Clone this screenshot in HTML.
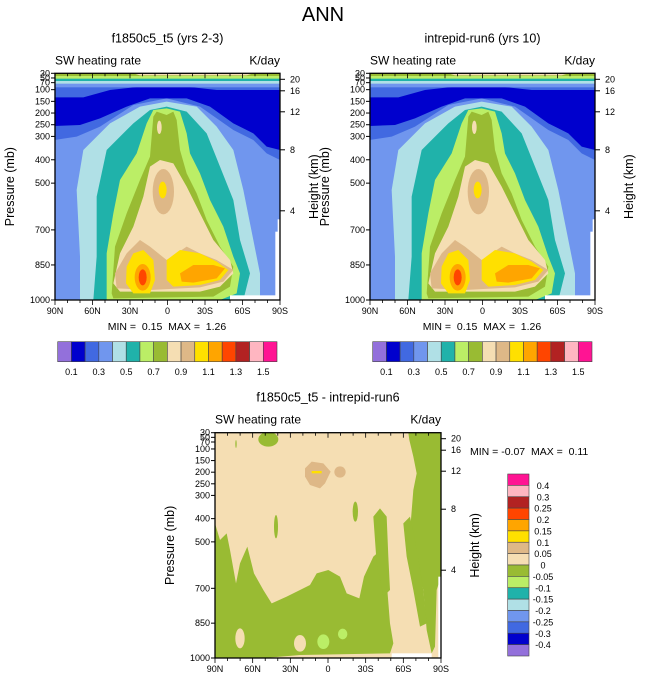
<!DOCTYPE html>
<html><head><meta charset="utf-8"><style>
html,body{margin:0;padding:0;background:#fff}
svg{display:block;font-family:"Liberation Sans",Arial,sans-serif}
.pre{white-space:pre}
</style></head><body>
<svg id="s" width="647" height="683" viewBox="0 0 647 683" xmlns="http://www.w3.org/2000/svg">
<defs>
<clipPath id="cz1"><rect x="163" y="100" width="677" height="680"/></clipPath>
<clipPath id="cz2"><rect x="165" y="128" width="678" height="677"/></clipPath>
<g id="topshapes">
 <rect x="163" y="100" width="677" height="680" fill="#7096EE"/>
 <path d="M163,120 L840,120 L840,360 L800,340 L760,300 L700,270 L600,200 L500,175 L400,195 L300,260 L230,290 L163,300 Z" fill="#4169E1"/>
 <path d="M163,172 L250,172 L330,150 L420,140 L560,140 L650,150 L720,150 L840,150 L840,330 L800,320 L760,280 L700,250 L630,200 L560,175 L450,175 L380,200 L300,235 L240,255 L163,258 Z" fill="#0000CD"/>
 <rect x="163" y="130" width="677" height="12" fill="#7096EE"/>
 <rect x="163" y="122" width="677" height="9" fill="#B0E0E6"/>
 <rect x="163" y="115" width="677" height="8" fill="#20B2AA"/>
 <rect x="163" y="108" width="677" height="8" fill="#BBEE66"/>
 <rect x="163" y="100" width="677" height="8" fill="#99BB33"/>
 <path d="M400,100 L760,100 L740,106 L420,106 Z" fill="#F5DEB3"/>
 <path d="M240,780 L240,650 L230,450 L250,330 L330,250 L420,200 L500,185 L590,200 L650,260 L700,330 L730,450 L760,600 L780,700 L780,780 Z" fill="#B0E0E6"/>
 <path d="M280,780 L290,650 L290,470 L320,330 L400,250 L450,210 L500,200 L560,215 L620,280 L660,380 L700,480 L720,600 L750,700 L730,780 Z" fill="#20B2AA"/>
 <path d="M320,780 L320,640 L340,520 L360,420 L410,340 L440,250 L460,210 L500,205 L540,215 L560,280 L570,340 L600,400 L630,480 L670,560 L700,650 L720,700 L710,760 L660,780 Z" fill="#BBEE66"/>
 <path d="M335,760 L345,620 L380,520 L420,420 L450,350 L460,230 L470,215 L500,225 L520,215 L530,240 L540,330 L560,400 L590,460 L620,540 L660,620 L700,680 L690,740 L640,770 L340,775 Z" fill="#99BB33"/>
 <path d="M340,730 L360,640 L400,560 L430,470 L450,380 L480,360 L520,370 L560,440 L600,520 L640,600 L690,660 L700,700 L660,740 L600,755 L360,755 Z" fill="#F5DEB3"/>
 <ellipse cx="478" cy="262" rx="7" ry="20" fill="#F5DEB3"/>
 <path d="M345,700 L380,640 L420,600 L450,620 L500,660 L560,620 L600,640 L650,660 L700,690 L670,725 L600,742 L450,750 L350,745 Z" fill="#DEB887"/>
 <ellipse cx="490" cy="455" rx="32" ry="68" fill="#DEB887"/>
 <ellipse cx="488" cy="450" rx="12" ry="25" fill="#FFE000"/>
 <path d="M380,680 L400,640 L430,630 L460,660 L465,720 L450,760 L400,760 L378,730 Z" fill="#FFE000"/>
 <path d="M500,660 L540,630 L600,640 L650,665 L685,690 L660,720 L600,735 L520,740 L500,720 Z" fill="#FFE000"/>
 <ellipse cx="428" cy="712" rx="24" ry="40" fill="#FFA500"/>
 <path d="M540,700 L580,675 L640,675 L675,685 L650,715 L580,728 L545,725 Z" fill="#FFA500"/>
 <ellipse cx="428" cy="712" rx="12" ry="24" fill="#FF4500"/>
 <rect x="690" y="766" width="150" height="14" fill="#fff"/>
 <rect x="833" y="538" width="7" height="242" fill="#fff"/>
 <rect x="826" y="575" width="8" height="205" fill="#fff"/>
</g>
</defs>
<g id="root"></g>
</svg>
<script>
var NS="http://www.w3.org/2000/svg",root=document.getElementById('root');
function el(t,a,txt,p){var e=document.createElementNS(NS,t);for(var k in a)e.setAttribute(k,a[k]);if(txt!=null)e.textContent=txt;(p||root).appendChild(e);return e;}
function txt(x,y,s,size,anchor,extra){var a={x:x,y:y,'font-size':size,'text-anchor':anchor||'start',fill:'#000'};for(var k in extra)a[k]=extra[k];return el('text',a,s);}
el('text',{x:323,y:21,'font-size':20,'text-anchor':'middle'},'ANN');
var g1=el('g',{transform:'translate(0,40) scale(0.33333)','clip-path':'url(#cz1)'});
el('use',{href:'#topshapes'},null,g1);
var g2=el('g',{transform:'translate(315,40) scale(0.33333)','clip-path':'url(#cz1)'});
el('use',{href:'#topshapes'},null,g2);
var g3=el('g',{transform:'translate(160,390) scale(0.33333)','clip-path':'url(#cz2)'});
g3.innerHTML='<rect x="165" y="128" width="678" height="677" fill="#F5DEB3"/>'+
'<path d="M745,128 L843,128 L843,560 L830,600 L825,770 L815,790 L800,720 L790,600 L765,500 L752,400 L760,300 L770,250 L760,200 L748,150 Z" fill="#99BB33"/>'+
'<path d="M165,400 L180,450 L200,430 L210,480 L228,580 L240,520 L262,470 L282,550 L310,600 L335,640 L380,620 L420,600 L450,585 L470,550 L505,540 L540,560 L560,610 L598,625 L612,560 L640,500 L662,480 L682,600 L690,700 L700,760 L690,790 L420,795 L300,805 L165,805 Z" fill="#99BB33"/>'+
'<path d="M640,380 L660,355 L680,380 L685,500 L690,600 L670,620 L650,520 Z" fill="#99BB33"/>'+
'<path d="M730,400 L750,380 L765,450 L790,600 L800,700 L780,710 L760,600 L740,500 Z" fill="#99BB33"/>'+
'<ellipse cx="325" cy="148" rx="30" ry="22" fill="#99BB33"/>'+
'<ellipse cx="586" cy="365" rx="8" ry="30" fill="#99BB33"/>'+
'<ellipse cx="348" cy="410" rx="6" ry="35" fill="#99BB33"/>'+
'<ellipse cx="228" cy="162" rx="2" ry="12" fill="#99BB33"/>'+
'<ellipse cx="240" cy="745" rx="14" ry="30" fill="#F5DEB3"/>'+
'<ellipse cx="420" cy="760" rx="18" ry="25" fill="#F5DEB3"/>'+
'<ellipse cx="490" cy="755" rx="18" ry="22" fill="#BBEE66"/>'+
'<ellipse cx="548" cy="732" rx="14" ry="16" fill="#BBEE66"/>'+
'<path d="M435,235 L455,215 L490,220 L512,245 L495,280 L480,295 L450,285 L435,260 Z" fill="#DEB887"/>'+
'<ellipse cx="540" cy="246" rx="17" ry="17" fill="#DEB887"/>'+
'<rect x="455" y="243" width="30" height="7" fill="#FFE000"/>'+
'<rect x="695" y="790" width="120" height="15" fill="#fff"/>'+
'<rect x="835" y="560" width="8" height="245" fill="#fff"/>';

var plev=[30,50,70,100,150,200,250,300,400,500,700,850,1000];
var hts=[[20,6],[16,17.5],[12,38.5],[8,76.5],[4,137.5]];
function frame(x0,y0,w,h,title,minmax,mmx,mmy,mmanchor){
  function py(p){return y0+h-h*(1000-p)/970;}
  el('rect',{x:x0,y:y0,width:w,height:h,fill:'none',stroke:'#000','stroke-width':1.3});
  plev.forEach(function(p){var y=py(p);el('line',{x1:x0-4,y1:y,x2:x0,y2:y,stroke:'#000'});
    txt(x0-5,y+3,String(p),9,'end');});
  for(var i=0;i<=18;i++){var x=x0+w*i/18,L=(i%3==0)?5:3;
    el('line',{x1:x,y1:y0,x2:x,y2:y0+L,stroke:'#000','stroke-width':0.8});
    el('line',{x1:x,y1:y0+h,x2:x,y2:y0+h+L,stroke:'#000','stroke-width':0.8});}
  var lat=['90N','60N','30N','0','30S','60S','90S'];
  lat.forEach(function(s,i){txt(x0+w*i/6,y0+h+14,s,9,'middle');});
  hts.forEach(function(a){var y=y0+a[1];el('line',{x1:x0+w,y1:y,x2:x0+w+5,y2:y,stroke:'#000'});txt(x0+w+10,y+3,String(a[0]),9,'start');});
  txt(x0+w/2,y0-31,title,12.5,'middle');
  txt(x0,y0-9,'SW heating rate',12,'start');
  txt(x0+w,y0-9,'K/day',12,'end');
  el('text',{x:0,y:0,'font-size':12.5,'text-anchor':'middle',transform:'translate('+(x0-41)+','+(y0+h/2)+') rotate(-90)'},'Pressure (mb)');
  el('text',{x:0,y:0,'font-size':12.5,'text-anchor':'middle',transform:'translate('+(x0+w+38)+','+(y0+h/2)+') rotate(-90)'},'Height (km)');
  txt(mmx,mmy,minmax,10.5,mmanchor,{'class':'pre'});
}
frame(55,73.3,225,226.7,'f1850c5_t5 (yrs 2-3)','MIN =  0.15  MAX =  1.26',167,330,'middle');
frame(370,73.3,225,226.7,'intrepid-run6 (yrs 10)','MIN =  0.15  MAX =  1.26',482,330,'middle');
frame(215,432.7,226,225.3,'f1850c5_t5 - intrepid-run6','MIN = -0.07  MAX =  0.11',470,455,'start');
var cols=['#9370DB','#0000CD','#4169E1','#7096EE','#B0E0E6','#20B2AA','#BBEE66','#99BB33','#F5DEB3','#DEB887','#FFE000','#FFA500','#FF4500','#B22222','#FFB6C1','#FF1493'];
function hbar(x0){var bw=219.3/16;for(var i=0;i<16;i++)el('rect',{x:x0+i*bw,y:341.7,width:bw,height:20,fill:cols[i],stroke:'#444','stroke-width':0.6});
  var labs=['0.1','0.3','0.5','0.7','0.9','1.1','1.3','1.5'];labs.forEach(function(s,j){txt(x0+(2*j+1)*bw,375,s,9,'middle');});}
hbar(57.7);hbar(372.7);
var vl=['0.4','0.3','0.25','0.2','0.15','0.1','0.05','0','-0.05','-0.1','-0.15','-0.2','-0.25','-0.3','-0.4'];
var bh=182/16;
for(var i=0;i<16;i++)el('rect',{x:507.7,y:474+i*bh,width:21.3,height:bh,fill:cols[15-i],stroke:'#444','stroke-width':0.6});
vl.forEach(function(s,j){txt(543,474+(j+1)*bh+3.5,s,9,'middle');});
</script>
</body></html>
